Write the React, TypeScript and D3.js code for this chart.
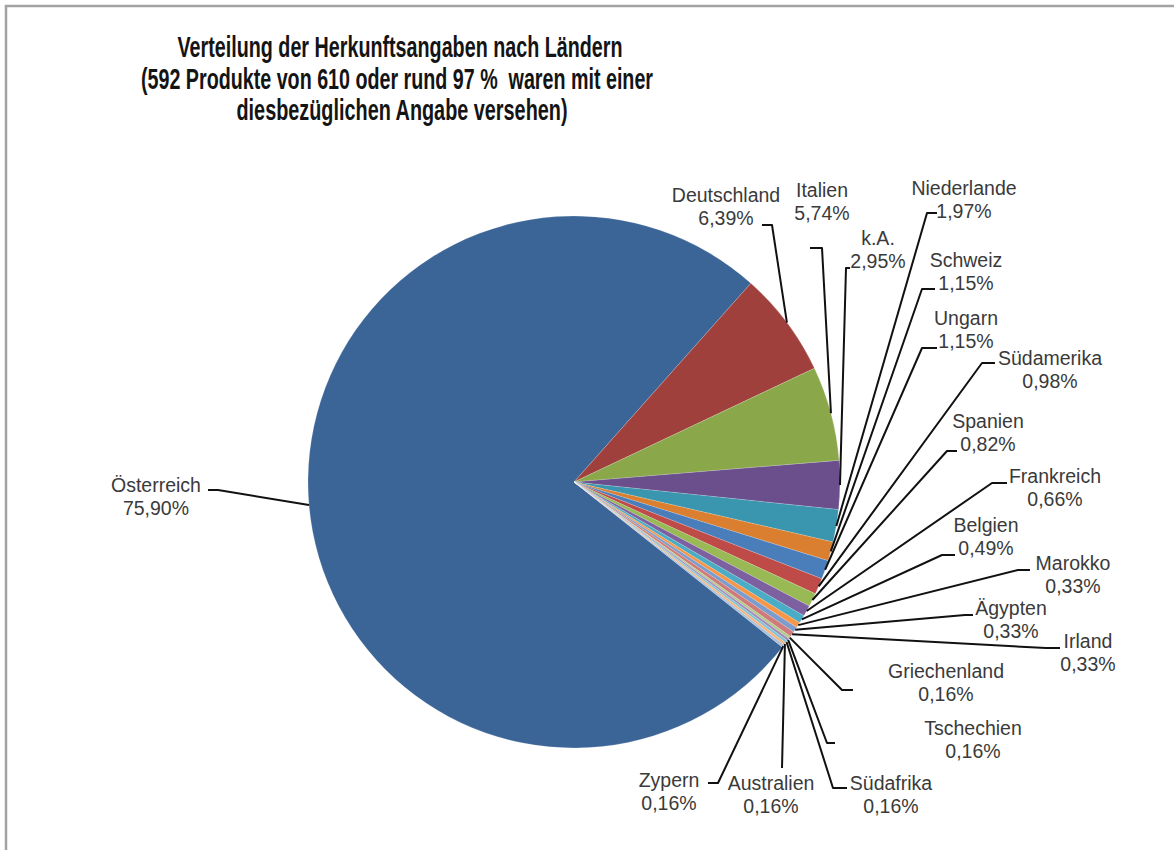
import React from 'react';
import * as d3 from 'd3';

// chart data (percent of products by country of origin)
const countries = [
  'Österreich', 'Deutschland', 'Italien', 'k.A.', 'Niederlande', 'Schweiz', 'Ungarn',
  'Südamerika', 'Spanien', 'Frankreich', 'Belgien', 'Marokko', 'Ägypten', 'Irland',
  'Griechenland', 'Tschechien', 'Südafrika', 'Australien', 'Zypern',
];
const shares = [
  75.90, 6.39, 5.74, 2.95, 1.97, 1.15, 1.15,
  0.98, 0.82, 0.66, 0.49, 0.33, 0.33, 0.33,
  0.16, 0.16, 0.16, 0.16, 0.16,
];
const titleLines = [
  'Verteilung der Herkunftsangaben nach Ländern',
  '(592 Produkte von 610 oder rund 97 %\u00a0 waren mit einer',
  'diesbezüglichen Angabe versehen)',
];

// styling
const sliceColors = [
  '#3c6597', '#a0403d', '#8aa84a', '#6b4e8c', '#3a96ae', '#d97f2f', '#4a7ebb',
  '#be4b48', '#98b954', '#7d60a0', '#4bacc6', '#f79646', '#7b9ccc', '#cf7b79',
  '#b4ca8a', '#a08cbb', '#7fc3d5', '#f9b276', '#a7bfde',
];

// manually placed labels (like in the spreadsheet): text centre/baseline, leader elbow a -> b
const labelLayout = [
  { tx: 156, ty: 492, ax: 218, ay: 490, bx: 208, by: 490 },
  { tx: 726, ty: 202, ax: 772, ay: 225, bx: 762, by: 225 },
  { tx: 822, ty: 197, ax: 822, ay: 248, bx: 810, by: 248 },
  { tx: 878, ty: 245, ax: 846, ay: 268, bx: 850, by: 268 },
  { tx: 964, ty: 195, ax: 927, ay: 213, bx: 937, by: 213 },
  { tx: 966, ty: 267, ax: 922, ay: 289, bx: 935, by: 289 },
  { tx: 966, ty: 325, ax: 922, ay: 348, bx: 937, by: 348 },
  { tx: 1050, ty: 365, ax: 982, ay: 363, bx: 995, by: 363 },
  { tx: 988, ty: 428, ax: 947, ay: 451, bx: 957, by: 451 },
  { tx: 1055, ty: 483, ax: 992, ay: 483, bx: 1007, by: 483 },
  { tx: 986, ty: 532, ax: 942, ay: 555, bx: 955, by: 555 },
  { tx: 1073, ty: 570, ax: 1018, ay: 570, bx: 1030, by: 570 },
  { tx: 1011, ty: 615, ax: 965, ay: 615, bx: 973, by: 615 },
  { tx: 1088, ty: 648, ax: 1046, ay: 648, bx: 1060, by: 648 },
  { tx: 946, ty: 678, ax: 842, ay: 690, bx: 853, by: 690 },
  { tx: 973, ty: 735, ax: 827, ay: 743, bx: 835, by: 743 },
  { tx: 891, ty: 790, ax: 833, ay: 788, bx: 847, by: 788 },
  { tx: 771, ty: 790, ax: 782, ay: 768, bx: 782, by: 768 },
  { tx: 669, ty: 787, ax: 718, ay: 783, bx: 708, by: 783 },
];

const titleLayout = [
  { x: 400, y: 57, len: 445 },
  { x: 397, y: 89, len: 512 },
  { x: 402, y: 120, len: 331 },
];

const WIDTH = 1174;
const HEIGHT = 850;
const CX = 574;
const CY = 482;
const RADIUS = 266;
const START_DEG = 128.4;

const fmt = (v: number) => `${d3.format('.2f')(v).replace('.', ',')}%`;

export default function App() {
  const start = (START_DEG * Math.PI) / 180;
  const pie = d3.pie<number>()
    .sort(null)
    .value((d) => d)
    .startAngle(start)
    .endAngle(start + 2 * Math.PI);
  const arcs = pie(shares);

  const arc = d3.arc<d3.PieArcDatum<number>>().innerRadius(0).outerRadius(RADIUS);
  const edge = d3.arc<d3.PieArcDatum<number>>().innerRadius(RADIUS).outerRadius(RADIUS);

  return (
    <svg
      width={WIDTH}
      height={HEIGHT}
      style={{ position: 'absolute', left: 0, top: 0, display: 'block', background: '#fff' }}
    >
      <rect x={6} y={6} width={WIDTH + 20} height={HEIGHT + 20} fill="#fff" stroke="#a3a3a3" strokeWidth={2.5} />

      <g fontFamily="'Liberation Sans', Arial, sans-serif" fontWeight="bold" fontSize={30} fill="#141414" textAnchor="middle">
        {titleLines.map((t, i) => (
          <text key={t} x={titleLayout[i].x} y={titleLayout[i].y} textLength={titleLayout[i].len} lengthAdjust="spacingAndGlyphs">
            {t}
          </text>
        ))}
      </g>

      <g transform={`translate(${CX},${CY})`}>
        {arcs.map((d, i) => (
          <path key={countries[i]} d={arc(d) || ''} fill={sliceColors[i]} stroke="#ffffff" strokeOpacity={0.35} strokeWidth={0.5} />
        ))}
      </g>

      {/* leader lines */}
      <g fill="none" stroke="#111" strokeWidth={2} strokeLinejoin="round">
        {arcs.map((d, i) => {
          const [px, py] = edge.centroid(d);
          const l = labelLayout[i];
          const path = d3.path();
          path.moveTo(CX + px, CY + py);
          path.lineTo(l.ax, l.ay);
          path.lineTo(l.bx, l.by);
          return <path key={countries[i]} d={path.toString()} />;
        })}
      </g>

      <g fontFamily="'Liberation Sans', Arial, sans-serif" fontSize={19.5} fill="#3a3a3a" textAnchor="middle">
        {countries.map((c, i) => (
          <text key={c} x={labelLayout[i].tx} y={labelLayout[i].ty}>
            <tspan x={labelLayout[i].tx}>{c}</tspan>
            <tspan x={labelLayout[i].tx} dy={23}>{fmt(shares[i])}</tspan>
          </text>
        ))}
      </g>
    </svg>
  );
}
